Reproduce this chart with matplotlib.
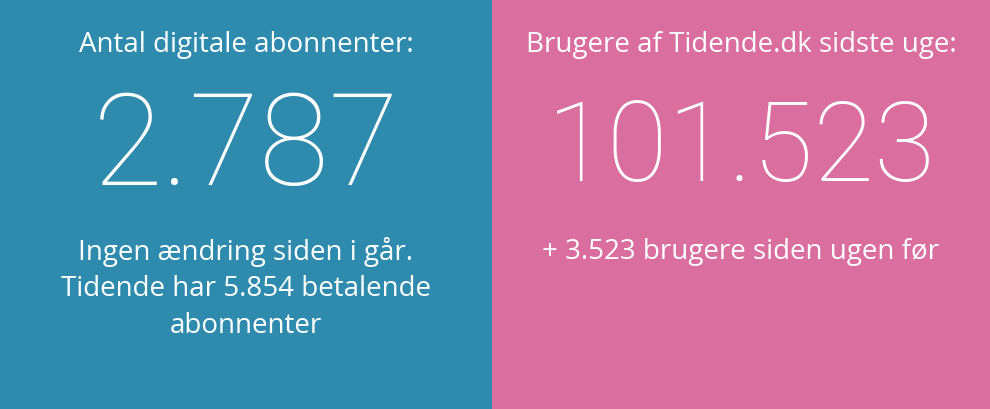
import matplotlib.pyplot as plt
from matplotlib.patches import Rectangle

panel_colors = ["#2E8BAE", "#D96E9F"]
titles = ["Antal digitale abonnenter:", "Brugere af Tidende.dk sidste uge:"]
numbers = ["2.787", "101.523"]
subtexts = [["Ingen ændring siden i går.", "Tidende har 5.854 betalende", "abonnenter"],
            ["+ 3.523 brugere siden ugen før"]]
splits = [0, 492, 990]

fig = plt.figure(figsize=(9.9, 4.09), dpi=100)
ax = fig.add_axes([0, 0, 1, 1])
ax.set_xlim(0, 990)
ax.set_ylim(409, 0)
ax.axis("off")

for i in range(2):
    x0, x1 = splits[i], splits[i + 1]
    ax.add_patch(Rectangle((x0, 0), x1 - x0, 409, color=panel_colors[i], lw=0))
    cx = (x0 + x1) / 2
    ax.text(cx, 45, titles[i], color="white", fontsize=20, family=["Open Sans", "DejaVu Sans"],
            ha="center", va="center")
    ax.text(cx, 150, numbers[i], color="white", fontsize=[92, 80][i],
            family=["Roboto", "DejaVu Sans"], fontweight="light",
            ha="center", va="center")
    for j, line in enumerate(subtexts[i]):
        ax.text(cx, 252 + j * 37, line, color="white", fontsize=20,
                family=["Open Sans", "DejaVu Sans"], ha="center", va="center")

fig.savefig("out.png", dpi=100)
